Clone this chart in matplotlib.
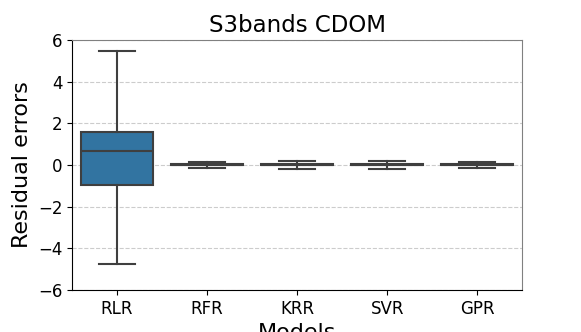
import matplotlib
matplotlib.use("Agg")
from matplotlib import pyplot as plt

# Dados
modelos = ["RLR", "RFR", "KRR", "SVR", "GPR"]
mediana = [0.65, 0.0, 0.0, 0.0, 0.0]
q1 = [-0.95, -0.03, -0.03, -0.03, -0.03]
q3 = [1.6, 0.03, 0.04, 0.04, 0.03]
wmin = [-4.75, -0.16, -0.2, -0.18, -0.14]
wmax = [5.45, 0.16, 0.2, 0.18, 0.14]
cores = ["#3274a1", "#e1812c", "#3a923a", "#c03d3e", "#9372b2"]

stats = []
for i, m in enumerate(modelos):
    stats.append({"label": m, "med": mediana[i], "q1": q1[i], "q3": q3[i],
                  "whislo": wmin[i], "whishi": wmax[i], "fliers": []})

fig = plt.figure(figsize=(5.81, 3.32), dpi=100)
ax = fig.add_axes([0.124, 0.127, 0.775, 0.753])

edge = "#3f3f3f"
bp = ax.bxp(stats, positions=range(len(modelos)), widths=0.8, patch_artist=True,
            showfliers=False,
            boxprops=dict(edgecolor=edge, linewidth=1.5),
            medianprops=dict(color=edge, linewidth=1.5),
            whiskerprops=dict(color=edge, linewidth=1.5),
            capprops=dict(color=edge, linewidth=1.5), capwidths=0.4)
for patch, c in zip(bp["boxes"], cores):
    patch.set_facecolor(c)

ax.set_ylim(-6, 6)
ax.set_yticks([-6, -4, -2, 0, 2, 4, 6])
ax.set_xlim(-0.5, 4.5)
ax.yaxis.grid(True, linestyle="--", color="#cccccc", linewidth=0.8)
ax.set_axisbelow(True)
ax.spines["top"].set_color("#808080")
ax.spines["right"].set_color("#808080")
ax.tick_params(labelsize=12)
ax.set_title("S3bands CDOM", fontsize=16.5)
ax.set_ylabel("Residual errors", fontsize=16)
ax.set_xlabel("Models", fontsize=16)

fig.savefig("out.png", dpi=100)
